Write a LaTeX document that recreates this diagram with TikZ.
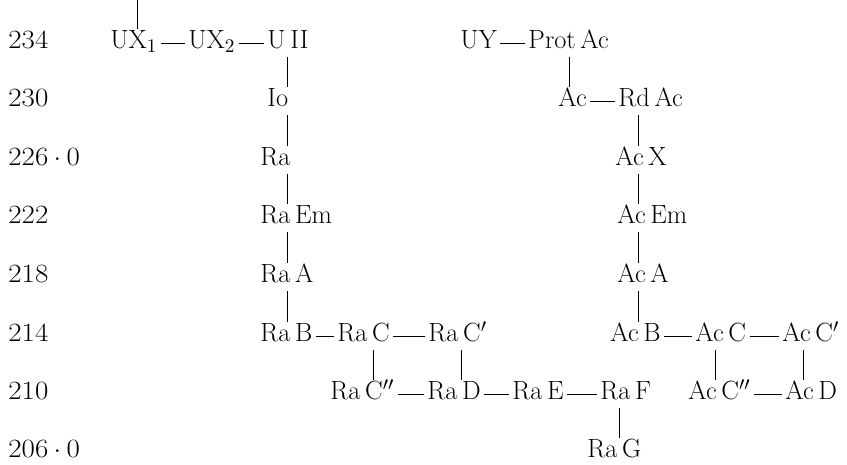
\documentclass[tikz,border=0pt]{standalone}
\usepackage{tikz}
\usepackage{graphicx}
\newcommand{\wsp}{\hspace{0.18em}}
\newcommand{\masa}[1]{\scalebox{1.1}[1]{#1}}

\begin{document}
\begin{tikzpicture}[x=0.02cm, y=-0.02cm, line width=0.5pt,
  every node/.style={anchor=west, inner xsep=0.06cm, inner ysep=0.15cm,
    text height=0.68em, text depth=0pt,
    font=\fontsize{15}{18}\selectfont}]
  \useasboundingbox (0,0) rectangle (847,465);

  % Escala de masas
  \node (L234) at (5,43) {\masa{234}};
  \node (L230) at (5,101) {\masa{230}};
  \node (L226) at (5,160) {\masa{226}${}\cdot{}$\masa{0}};
  \node (L222) at (5,218) {\masa{222}};
  \node (L218) at (5,277) {\masa{218}};
  \node (L214) at (5,336) {\masa{214}};
  \node (L210) at (5,394) {\masa{210}};
  \node (L206) at (5,452) {\masa{206}${}\cdot{}$\masa{0}};

  % Serie del uranio
  \coordinate (top) at (137,0);
  \node (UX1) at (107,43) {UX$_1$};
  \node (UX2) at (185,43) {UX$_2$};
  \node (UII) at (264,43) {U\wsp II};
  \node (Io) at (264,101) {Io};
  \node (Ra) at (257,160) {Ra};
  \node (RaEm) at (257,218) {Ra\wsp Em};
  \node (RaA) at (257,277) {Ra\wsp A};
  \node (RaB) at (257,336) {Ra\wsp B};
  \node (RaC) at (334,336) {Ra\wsp C};
  \node (RaCp) at (425,336) {Ra\wsp C$'$};
  \node (RaCpp) at (327,394) {Ra\wsp C$''$};
  \node (RaD) at (424,394) {Ra\wsp D};
  \node (RaE) at (509,394) {Ra\wsp E};
  \node (RaF) at (597,394) {Ra\wsp F};
  \node (RaG) at (584,452) {Ra\wsp G};

  \coordinate (vRa) at (287,0);
  \draw (top) -- (UX1.north -| top);
  \draw (UX1) -- (UX2);
  \draw (UX2) -- (UII);
  \draw (UII.south -| vRa) -- (Io.north -| vRa);
  \draw (Io.south -| vRa) -- (Ra.north -| vRa);
  \draw (Ra.south -| vRa) -- (RaEm.north -| vRa);
  \draw (RaEm.south -| vRa) -- (RaA.north -| vRa);
  \draw (RaA.south -| vRa) -- (RaB.north -| vRa);
  \draw (RaB) -- (RaC);
  \draw (RaC) -- (RaCp);
  \coordinate (vRaC) at (373,0);
  \coordinate (vRaCp) at (461,0);
  \coordinate (vRaF) at (619,0);
  \draw (RaC.south -| vRaC) -- (RaCpp.north -| vRaC);
  \draw (RaCp.south -| vRaCp) -- (RaD.north -| vRaCp);
  \draw (RaCpp) -- (RaD);
  \draw (RaD) -- (RaE);
  \draw (RaE) -- (RaF);
  \draw (RaF.south -| vRaF) -- (RaG.north -| vRaF);

  % Serie del actinio
  \node (UY) at (457,43) {UY};
  \node (ProtAc) at (525,43) {Prot\wsp Ac};
  \node (Ac) at (555,101) {Ac};
  \node (RdAc) at (615,101) {Rd\wsp Ac};
  \node (AcX) at (612,160) {Ac\wsp X};
  \node (AcEm) at (614,218) {Ac\wsp Em};
  \node (AcA) at (614,277) {Ac\wsp A};
  \node (AcB) at (607,336) {Ac\wsp B};
  \node (AcC) at (692,336) {Ac\wsp C};
  \node (AcCp) at (779,336) {Ac\wsp C$'$};
  \node (AcCpp) at (685,394) {Ac\wsp C$''$};
  \node (AcD) at (782,394) {Ac\wsp D};

  \coordinate (vPr) at (569,0);
  \coordinate (vAc) at (638,0);
  \coordinate (vAcC) at (715,0);
  \coordinate (vAcCp) at (803,0);
  \draw (UY) -- (ProtAc);
  \draw (ProtAc.south -| vPr) -- (Ac.north -| vPr);
  \draw (Ac) -- (RdAc);
  \draw (RdAc.south -| vAc) -- (AcX.north -| vAc);
  \draw (AcX.south -| vAc) -- (AcEm.north -| vAc);
  \draw (AcEm.south -| vAc) -- (AcA.north -| vAc);
  \draw (AcA.south -| vAc) -- (AcB.north -| vAc);
  \draw (AcB) -- (AcC);
  \draw (AcC) -- (AcCp);
  \draw (AcC.south -| vAcC) -- (AcCpp.north -| vAcC);
  \draw (AcCp.south -| vAcCp) -- (AcD.north -| vAcCp);
  \draw (AcCpp) -- (AcD);
\end{tikzpicture}
\end{document}
